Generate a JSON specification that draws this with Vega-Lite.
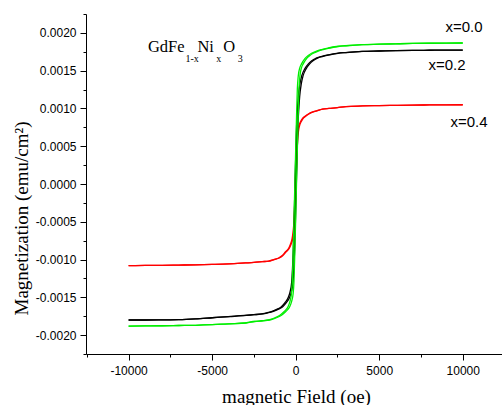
{
  "$schema": "https://vega.github.io/schema/vega-lite/v6.json",
  "width": 416,
  "height": 340,
  "autosize": {"type": "none"},
  "padding": {"left": 86, "top": 14, "right": 0, "bottom": 51},
  "background": "white",
  "config": {"view": {"stroke": null}},
  "datasets": {
    "curves": [
      {"s":"x=0.4","b":"r1","h":10000,"m":0.001049},{"s":"x=0.4","b":"r1","h":9000,"m":0.001048},{"s":"x=0.4","b":"r1","h":8000,"m":0.001046},{"s":"x=0.4","b":"r1","h":7000,"m":0.001044},{"s":"x=0.4","b":"r1","h":6000,"m":0.001041},{"s":"x=0.4","b":"r1","h":5000,"m":0.001038},{"s":"x=0.4","b":"r1","h":3980,"m":0.001033},{"s":"x=0.4","b":"r1","h":2980,"m":0.001025},{"s":"x=0.4","b":"r1","h":2480,"m":0.00101},{"s":"x=0.4","b":"r1","h":1980,"m":0.001},{"s":"x=0.4","b":"r1","h":1580,"m":0.00099},{"s":"x=0.4","b":"r1","h":1280,"m":0.00097},{"s":"x=0.4","b":"r1","h":980,"m":0.00095},{"s":"x=0.4","b":"r1","h":780,"m":0.00093},{"s":"x=0.4","b":"r1","h":580,"m":0.0009},{"s":"x=0.4","b":"r1","h":380,"m":0.00086},{"s":"x=0.4","b":"r1","h":280,"m":0.00082},{"s":"x=0.4","b":"r1","h":180,"m":0.00076},{"s":"x=0.4","b":"r1","h":130,"m":0.0007},{"s":"x=0.4","b":"r1","h":80,"m":0.00058},{"s":"x=0.4","b":"r1","h":30,"m":0.00038},{"s":"x=0.4","b":"r1","h":-20,"m":0},{"s":"x=0.4","b":"r1","h":-70,"m":-0.00035},{"s":"x=0.4","b":"r1","h":-120,"m":-0.00055},{"s":"x=0.4","b":"r1","h":-170,"m":-0.00066},{"s":"x=0.4","b":"r1","h":-220,"m":-0.00073},{"s":"x=0.4","b":"r1","h":-320,"m":-0.0008},{"s":"x=0.4","b":"r1","h":-420,"m":-0.00085},{"s":"x=0.4","b":"r1","h":-620,"m":-0.0009},{"s":"x=0.4","b":"r1","h":-820,"m":-0.00095},{"s":"x=0.4","b":"r1","h":-1020,"m":-0.00098},{"s":"x=0.4","b":"r1","h":-1320,"m":-0.001},{"s":"x=0.4","b":"r1","h":-1620,"m":-0.00102},{"s":"x=0.4","b":"r1","h":-2020,"m":-0.001028},{"s":"x=0.4","b":"r1","h":-2520,"m":-0.001038},{"s":"x=0.4","b":"r1","h":-3020,"m":-0.001045},{"s":"x=0.4","b":"r1","h":-4020,"m":-0.001058},{"s":"x=0.4","b":"r1","h":-5000,"m":-0.001065},{"s":"x=0.4","b":"r1","h":-6000,"m":-0.00107},{"s":"x=0.4","b":"r1","h":-7000,"m":-0.001073},{"s":"x=0.4","b":"r1","h":-8000,"m":-0.001076},{"s":"x=0.4","b":"r1","h":-9000,"m":-0.001078},{"s":"x=0.4","b":"r1","h":-10000,"m":-0.00108},
      {"s":"x=0.4","b":"r2","h":-10000,"m":-0.00108},{"s":"x=0.4","b":"r2","h":-9000,"m":-0.001078},{"s":"x=0.4","b":"r2","h":-8000,"m":-0.001076},{"s":"x=0.4","b":"r2","h":-7000,"m":-0.001073},{"s":"x=0.4","b":"r2","h":-6000,"m":-0.00107},{"s":"x=0.4","b":"r2","h":-5000,"m":-0.001065},{"s":"x=0.4","b":"r2","h":-3980,"m":-0.001058},{"s":"x=0.4","b":"r2","h":-2980,"m":-0.001045},{"s":"x=0.4","b":"r2","h":-2480,"m":-0.001038},{"s":"x=0.4","b":"r2","h":-1980,"m":-0.001028},{"s":"x=0.4","b":"r2","h":-1580,"m":-0.00102},{"s":"x=0.4","b":"r2","h":-1280,"m":-0.001},{"s":"x=0.4","b":"r2","h":-980,"m":-0.00098},{"s":"x=0.4","b":"r2","h":-780,"m":-0.00095},{"s":"x=0.4","b":"r2","h":-580,"m":-0.0009},{"s":"x=0.4","b":"r2","h":-380,"m":-0.00085},{"s":"x=0.4","b":"r2","h":-280,"m":-0.0008},{"s":"x=0.4","b":"r2","h":-180,"m":-0.00073},{"s":"x=0.4","b":"r2","h":-130,"m":-0.00066},{"s":"x=0.4","b":"r2","h":-80,"m":-0.00055},{"s":"x=0.4","b":"r2","h":-30,"m":-0.00035},{"s":"x=0.4","b":"r2","h":20,"m":0},{"s":"x=0.4","b":"r2","h":70,"m":0.00038},{"s":"x=0.4","b":"r2","h":120,"m":0.00058},{"s":"x=0.4","b":"r2","h":170,"m":0.0007},{"s":"x=0.4","b":"r2","h":220,"m":0.00076},{"s":"x=0.4","b":"r2","h":320,"m":0.00082},{"s":"x=0.4","b":"r2","h":420,"m":0.00086},{"s":"x=0.4","b":"r2","h":620,"m":0.0009},{"s":"x=0.4","b":"r2","h":820,"m":0.00093},{"s":"x=0.4","b":"r2","h":1020,"m":0.00095},{"s":"x=0.4","b":"r2","h":1320,"m":0.00097},{"s":"x=0.4","b":"r2","h":1620,"m":0.00099},{"s":"x=0.4","b":"r2","h":2020,"m":0.001},{"s":"x=0.4","b":"r2","h":2520,"m":0.00101},{"s":"x=0.4","b":"r2","h":3020,"m":0.001025},{"s":"x=0.4","b":"r2","h":4020,"m":0.001033},{"s":"x=0.4","b":"r2","h":5000,"m":0.001038},{"s":"x=0.4","b":"r2","h":6000,"m":0.001041},{"s":"x=0.4","b":"r2","h":7000,"m":0.001044},{"s":"x=0.4","b":"r2","h":8000,"m":0.001046},{"s":"x=0.4","b":"r2","h":9000,"m":0.001048},{"s":"x=0.4","b":"r2","h":10000,"m":0.001049},
      {"s":"x=0.2","b":"k1","h":10000,"m":0.001773},{"s":"x=0.2","b":"k1","h":9000,"m":0.001772},{"s":"x=0.2","b":"k1","h":8000,"m":0.00177},{"s":"x=0.2","b":"k1","h":7000,"m":0.001768},{"s":"x=0.2","b":"k1","h":6000,"m":0.001765},{"s":"x=0.2","b":"k1","h":5000,"m":0.00176},{"s":"x=0.2","b":"k1","h":3960,"m":0.001755},{"s":"x=0.2","b":"k1","h":2960,"m":0.00174},{"s":"x=0.2","b":"k1","h":2460,"m":0.00173},{"s":"x=0.2","b":"k1","h":1960,"m":0.00171},{"s":"x=0.2","b":"k1","h":1560,"m":0.00169},{"s":"x=0.2","b":"k1","h":1260,"m":0.00167},{"s":"x=0.2","b":"k1","h":960,"m":0.00163},{"s":"x=0.2","b":"k1","h":760,"m":0.00159},{"s":"x=0.2","b":"k1","h":560,"m":0.00153},{"s":"x=0.2","b":"k1","h":360,"m":0.00143},{"s":"x=0.2","b":"k1","h":260,"m":0.00133},{"s":"x=0.2","b":"k1","h":160,"m":0.00116},{"s":"x=0.2","b":"k1","h":110,"m":0.001},{"s":"x=0.2","b":"k1","h":60,"m":0.0008},{"s":"x=0.2","b":"k1","h":10,"m":0.00042},{"s":"x=0.2","b":"k1","h":-40,"m":0},{"s":"x=0.2","b":"k1","h":-90,"m":-0.00045},{"s":"x=0.2","b":"k1","h":-140,"m":-0.00085},{"s":"x=0.2","b":"k1","h":-190,"m":-0.00112},{"s":"x=0.2","b":"k1","h":-240,"m":-0.0013},{"s":"x=0.2","b":"k1","h":-340,"m":-0.00143},{"s":"x=0.2","b":"k1","h":-440,"m":-0.0015},{"s":"x=0.2","b":"k1","h":-640,"m":-0.00157},{"s":"x=0.2","b":"k1","h":-840,"m":-0.00162},{"s":"x=0.2","b":"k1","h":-1040,"m":-0.00165},{"s":"x=0.2","b":"k1","h":-1340,"m":-0.00168},{"s":"x=0.2","b":"k1","h":-1640,"m":-0.0017},{"s":"x=0.2","b":"k1","h":-2040,"m":-0.00172},{"s":"x=0.2","b":"k1","h":-2540,"m":-0.00173},{"s":"x=0.2","b":"k1","h":-3040,"m":-0.00174},{"s":"x=0.2","b":"k1","h":-4040,"m":-0.001755},{"s":"x=0.2","b":"k1","h":-5000,"m":-0.00177},{"s":"x=0.2","b":"k1","h":-6000,"m":-0.001785},{"s":"x=0.2","b":"k1","h":-7000,"m":-0.001795},{"s":"x=0.2","b":"k1","h":-8000,"m":-0.001798},{"s":"x=0.2","b":"k1","h":-9000,"m":-0.0018},{"s":"x=0.2","b":"k1","h":-10000,"m":-0.0018},
      {"s":"x=0.2","b":"k2","h":-10000,"m":-0.0018},{"s":"x=0.2","b":"k2","h":-9000,"m":-0.0018},{"s":"x=0.2","b":"k2","h":-8000,"m":-0.001798},{"s":"x=0.2","b":"k2","h":-7000,"m":-0.001795},{"s":"x=0.2","b":"k2","h":-6000,"m":-0.001785},{"s":"x=0.2","b":"k2","h":-5000,"m":-0.00177},{"s":"x=0.2","b":"k2","h":-3960,"m":-0.001755},{"s":"x=0.2","b":"k2","h":-2960,"m":-0.00174},{"s":"x=0.2","b":"k2","h":-2460,"m":-0.00173},{"s":"x=0.2","b":"k2","h":-1960,"m":-0.00172},{"s":"x=0.2","b":"k2","h":-1560,"m":-0.0017},{"s":"x=0.2","b":"k2","h":-1260,"m":-0.00168},{"s":"x=0.2","b":"k2","h":-960,"m":-0.00165},{"s":"x=0.2","b":"k2","h":-760,"m":-0.00162},{"s":"x=0.2","b":"k2","h":-560,"m":-0.00157},{"s":"x=0.2","b":"k2","h":-360,"m":-0.0015},{"s":"x=0.2","b":"k2","h":-260,"m":-0.00143},{"s":"x=0.2","b":"k2","h":-160,"m":-0.0013},{"s":"x=0.2","b":"k2","h":-110,"m":-0.00112},{"s":"x=0.2","b":"k2","h":-60,"m":-0.00085},{"s":"x=0.2","b":"k2","h":-10,"m":-0.00045},{"s":"x=0.2","b":"k2","h":40,"m":0},{"s":"x=0.2","b":"k2","h":90,"m":0.00042},{"s":"x=0.2","b":"k2","h":140,"m":0.0008},{"s":"x=0.2","b":"k2","h":190,"m":0.001},{"s":"x=0.2","b":"k2","h":240,"m":0.00116},{"s":"x=0.2","b":"k2","h":340,"m":0.00133},{"s":"x=0.2","b":"k2","h":440,"m":0.00143},{"s":"x=0.2","b":"k2","h":640,"m":0.00153},{"s":"x=0.2","b":"k2","h":840,"m":0.00159},{"s":"x=0.2","b":"k2","h":1040,"m":0.00163},{"s":"x=0.2","b":"k2","h":1340,"m":0.00167},{"s":"x=0.2","b":"k2","h":1640,"m":0.00169},{"s":"x=0.2","b":"k2","h":2040,"m":0.00171},{"s":"x=0.2","b":"k2","h":2540,"m":0.00173},{"s":"x=0.2","b":"k2","h":3040,"m":0.00174},{"s":"x=0.2","b":"k2","h":4040,"m":0.001755},{"s":"x=0.2","b":"k2","h":5000,"m":0.00176},{"s":"x=0.2","b":"k2","h":6000,"m":0.001765},{"s":"x=0.2","b":"k2","h":7000,"m":0.001768},{"s":"x=0.2","b":"k2","h":8000,"m":0.00177},{"s":"x=0.2","b":"k2","h":9000,"m":0.001772},{"s":"x=0.2","b":"k2","h":10000,"m":0.001773},
      {"s":"x=0.0","b":"g1","h":10000,"m":0.001866},{"s":"x=0.0","b":"g1","h":9000,"m":0.001865},{"s":"x=0.0","b":"g1","h":8000,"m":0.001863},{"s":"x=0.0","b":"g1","h":7000,"m":0.00186},{"s":"x=0.0","b":"g1","h":6000,"m":0.001855},{"s":"x=0.0","b":"g1","h":5000,"m":0.00185},{"s":"x=0.0","b":"g1","h":3950,"m":0.001845},{"s":"x=0.0","b":"g1","h":2950,"m":0.00183},{"s":"x=0.0","b":"g1","h":2450,"m":0.00182},{"s":"x=0.0","b":"g1","h":1950,"m":0.0018},{"s":"x=0.0","b":"g1","h":1550,"m":0.00178},{"s":"x=0.0","b":"g1","h":1250,"m":0.00176},{"s":"x=0.0","b":"g1","h":950,"m":0.00173},{"s":"x=0.0","b":"g1","h":750,"m":0.0017},{"s":"x=0.0","b":"g1","h":550,"m":0.00166},{"s":"x=0.0","b":"g1","h":350,"m":0.00159},{"s":"x=0.0","b":"g1","h":250,"m":0.00154},{"s":"x=0.0","b":"g1","h":150,"m":0.00142},{"s":"x=0.0","b":"g1","h":100,"m":0.00126},{"s":"x=0.0","b":"g1","h":50,"m":0.00088},{"s":"x=0.0","b":"g1","h":0,"m":0.00045},{"s":"x=0.0","b":"g1","h":-50,"m":0},{"s":"x=0.0","b":"g1","h":-100,"m":-0.00047},{"s":"x=0.0","b":"g1","h":-150,"m":-0.0009},{"s":"x=0.0","b":"g1","h":-200,"m":-0.00128},{"s":"x=0.0","b":"g1","h":-250,"m":-0.00145},{"s":"x=0.0","b":"g1","h":-350,"m":-0.00156},{"s":"x=0.0","b":"g1","h":-450,"m":-0.00162},{"s":"x=0.0","b":"g1","h":-650,"m":-0.00168},{"s":"x=0.0","b":"g1","h":-850,"m":-0.00172},{"s":"x=0.0","b":"g1","h":-1050,"m":-0.00175},{"s":"x=0.0","b":"g1","h":-1350,"m":-0.00178},{"s":"x=0.0","b":"g1","h":-1650,"m":-0.0018},{"s":"x=0.0","b":"g1","h":-2050,"m":-0.00181},{"s":"x=0.0","b":"g1","h":-2550,"m":-0.00182},{"s":"x=0.0","b":"g1","h":-3050,"m":-0.00184},{"s":"x=0.0","b":"g1","h":-4050,"m":-0.00185},{"s":"x=0.0","b":"g1","h":-5000,"m":-0.001862},{"s":"x=0.0","b":"g1","h":-6000,"m":-0.00187},{"s":"x=0.0","b":"g1","h":-7000,"m":-0.001873},{"s":"x=0.0","b":"g1","h":-8000,"m":-0.001876},{"s":"x=0.0","b":"g1","h":-9000,"m":-0.001878},{"s":"x=0.0","b":"g1","h":-10000,"m":-0.00188},
      {"s":"x=0.0","b":"g2","h":-10000,"m":-0.00188},{"s":"x=0.0","b":"g2","h":-9000,"m":-0.001878},{"s":"x=0.0","b":"g2","h":-8000,"m":-0.001876},{"s":"x=0.0","b":"g2","h":-7000,"m":-0.001873},{"s":"x=0.0","b":"g2","h":-6000,"m":-0.00187},{"s":"x=0.0","b":"g2","h":-5000,"m":-0.001862},{"s":"x=0.0","b":"g2","h":-3950,"m":-0.00185},{"s":"x=0.0","b":"g2","h":-2950,"m":-0.00184},{"s":"x=0.0","b":"g2","h":-2450,"m":-0.00182},{"s":"x=0.0","b":"g2","h":-1950,"m":-0.00181},{"s":"x=0.0","b":"g2","h":-1550,"m":-0.0018},{"s":"x=0.0","b":"g2","h":-1250,"m":-0.00178},{"s":"x=0.0","b":"g2","h":-950,"m":-0.00175},{"s":"x=0.0","b":"g2","h":-750,"m":-0.00172},{"s":"x=0.0","b":"g2","h":-550,"m":-0.00168},{"s":"x=0.0","b":"g2","h":-350,"m":-0.00162},{"s":"x=0.0","b":"g2","h":-250,"m":-0.00156},{"s":"x=0.0","b":"g2","h":-150,"m":-0.00145},{"s":"x=0.0","b":"g2","h":-100,"m":-0.00128},{"s":"x=0.0","b":"g2","h":-50,"m":-0.0009},{"s":"x=0.0","b":"g2","h":0,"m":-0.00047},{"s":"x=0.0","b":"g2","h":50,"m":0},{"s":"x=0.0","b":"g2","h":100,"m":0.00045},{"s":"x=0.0","b":"g2","h":150,"m":0.00088},{"s":"x=0.0","b":"g2","h":200,"m":0.00126},{"s":"x=0.0","b":"g2","h":250,"m":0.00142},{"s":"x=0.0","b":"g2","h":350,"m":0.00154},{"s":"x=0.0","b":"g2","h":450,"m":0.00159},{"s":"x=0.0","b":"g2","h":650,"m":0.00166},{"s":"x=0.0","b":"g2","h":850,"m":0.0017},{"s":"x=0.0","b":"g2","h":1050,"m":0.00173},{"s":"x=0.0","b":"g2","h":1350,"m":0.00176},{"s":"x=0.0","b":"g2","h":1650,"m":0.00178},{"s":"x=0.0","b":"g2","h":2050,"m":0.0018},{"s":"x=0.0","b":"g2","h":2550,"m":0.00182},{"s":"x=0.0","b":"g2","h":3050,"m":0.00183},{"s":"x=0.0","b":"g2","h":4050,"m":0.001845},{"s":"x=0.0","b":"g2","h":5000,"m":0.00185},{"s":"x=0.0","b":"g2","h":6000,"m":0.001855},{"s":"x=0.0","b":"g2","h":7000,"m":0.00186},{"s":"x=0.0","b":"g2","h":8000,"m":0.001863},{"s":"x=0.0","b":"g2","h":9000,"m":0.001865},{"s":"x=0.0","b":"g2","h":10000,"m":0.001866}
    ],
    "notes": [
      {"t":"x=0.0","role":"label","h":8966,"m":0.002012},
      {"t":"x=0.2","role":"label","h":7950,"m":0.001509},
      {"t":"x=0.4","role":"label","h":9265,"m":0.000754},
      {"t":"GdFe","role":"main","h":-8846,"m":0.001747},
      {"t":"1-x","role":"sub","h":-6600,"m":0.001615},
      {"t":"Ni","role":"main","h":-5880,"m":0.001747},
      {"t":"x","role":"sub","h":-4760,"m":0.001615},
      {"t":"O","role":"main","h":-4340,"m":0.001747},
      {"t":"3","role":"sub","h":-3470,"m":0.001615}
    ]
  },
  "encoding": {
    "x": {
      "field": "h", "type": "quantitative",
      "scale": {"domain": [-12550, 12350], "nice": false, "zero": false},
      "axis": {
        "values": [-12500, -10000, -7500, -5000, -2500, 0, 2500, 5000, 7500, 10000],
        "labelExpr": "datum.value % 5000 == 0 ? '' + datum.value : ''",
        "tickSize": {"condition": {"test": "datum.value % 5000 == 0", "value": 6}, "value": 3},
        "labelPadding": 5,
        "grid": false,
        "domainColor": "#000000", "tickColor": "#000000", "labelColor": "#000000",
        "labelFont": "Liberation Sans", "labelFontSize": 12,
        "title": "magnetic Field (oe)",
        "titleFont": "Liberation Serif", "titleFontSize": 19, "titleFontWeight": "normal", "titleColor": "#000000",
        "titleBaseline": "alphabetic", "titleX": 210, "titleY": 48
      }
    },
    "y": {
      "field": "m", "type": "quantitative",
      "scale": {"domain": [-0.00225, 0.00225], "nice": false, "zero": false},
      "axis": {
        "values": [-0.00225, -0.002, -0.00175, -0.0015, -0.00125, -0.001, -0.00075, -0.0005, -0.00025, 0, 0.00025, 0.0005, 0.00075, 0.001, 0.00125, 0.0015, 0.00175, 0.002, 0.00225],
        "labelExpr": "abs(round(datum.value * 4000)) % 2 == 0 ? replace(format(datum.value, '.4f'), '\u2212', '-') : ''",
        "tickSize": {"condition": {"test": "abs(round(datum.value * 4000)) % 2 == 0", "value": 6}, "value": 3},
        "labelPadding": 4,
        "grid": false,
        "domainColor": "#000000", "tickColor": "#000000", "labelColor": "#000000",
        "labelFont": "Liberation Sans", "labelFontSize": 12,
        "title": "Magnetization (emu/cm²)",
        "titleFont": "Liberation Serif", "titleFontSize": 19, "titleFontWeight": "normal", "titleColor": "#000000",
        "titleBaseline": "alphabetic", "titleAngle": 270, "titleX": -59, "titleY": 204
      }
    }
  },
  "layer": [
    {
      "data": {"name": "curves"},
      "mark": {"type": "line", "strokeWidth": 1.3, "interpolate": "monotone"},
      "encoding": {
        "color": {"field": "s", "type": "nominal", "scale": {"domain": ["x=0.0", "x=0.2", "x=0.4"], "range": ["#00ee00", "#000000", "#ff0000"]}, "legend": null},
        "detail": {"field": "b", "type": "nominal"}
      }
    },
    {
      "data": {"name": "notes"},
      "transform": [{"filter": "datum.role == 'label'"}],
      "mark": {"type": "text", "align": "left", "baseline": "alphabetic", "font": "Liberation Sans", "fontSize": 15, "color": "#000000"},
      "encoding": {"text": {"field": "t", "type": "nominal"}}
    },
    {
      "data": {"name": "notes"},
      "transform": [{"filter": "datum.role == 'main'"}],
      "mark": {"type": "text", "align": "left", "baseline": "alphabetic", "font": "Liberation Serif", "fontSize": 16.5, "color": "#000000"},
      "encoding": {"text": {"field": "t", "type": "nominal"}}
    },
    {
      "data": {"name": "notes"},
      "transform": [{"filter": "datum.role == 'sub'"}],
      "mark": {"type": "text", "align": "left", "baseline": "alphabetic", "font": "Liberation Serif", "fontSize": 10, "color": "#000000"},
      "encoding": {"text": {"field": "t", "type": "nominal"}}
    }
  ]
}
